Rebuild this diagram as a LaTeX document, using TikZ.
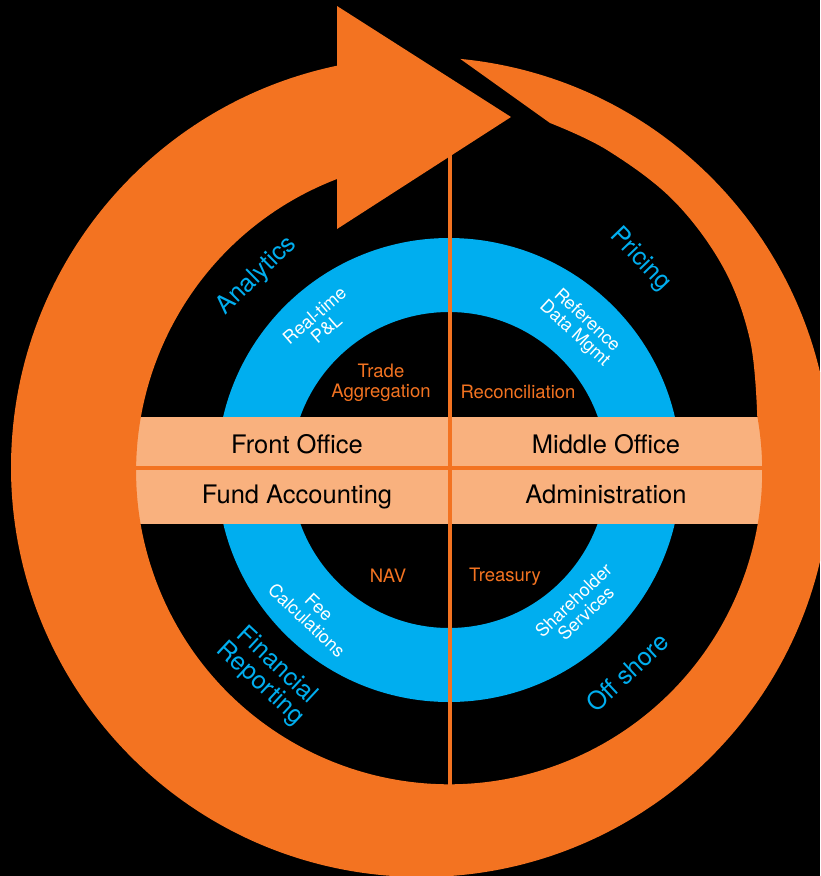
\documentclass[tikz,border=0pt]{standalone}
\usepackage{fontspec}
\setmainfont{TeX Gyre Heros}
\usetikzlibrary{calc}
\definecolor{orng}{HTML}{F37321}
\definecolor{beige}{HTML}{F9B17E}
\definecolor{cyanb}{HTML}{00AEEF}
\begin{document}
\begin{tikzpicture}[x=1pt,y=-1pt,
  bandtxt/.style={font=\fontsize{25.5}{28}\selectfont, text=black, anchor=base, inner sep=0pt},
  innertxt/.style={font=\fontsize{18.5}{20.5}\selectfont, text=orng, align=center, inner sep=0pt},
  ringtxt/.style={font=\fontsize{18}{18}\selectfont, text=white, align=center, inner sep=0pt},
  outertxt/.style={font=\fontsize{25}{24.5}\selectfont, text=cyanb, align=center, inner sep=0pt},
  divider/.style={orng, line width=3.3pt}]
\fill[black] (0,0) rectangle (820,876);
\useasboundingbox (0,0) rectangle (820,876);
\clip (0,0) rectangle (820,876);
\coordinate (C) at (449,470);
% blue ring
\fill[cyanb, even odd rule] (C) circle[radius=232] (C) circle[radius=158];
% band
\fill[beige] (100,417) rectangle (800,524);
% dividers
\coordinate (hl) at (100,468);
\coordinate (hr) at (800,468);
\coordinate (vt) at (450,150);
\coordinate (vb) at (450,790);
\draw[divider] (hl) -- (hr);
\draw[divider, line width=3.2pt] (vt) -- (vb);
% orange circular arrow
\coordinate (tip) at (460.3,58.9);
\fill[orng] (tip) arc[start angle=275.5, end angle=618.18, radius=410]
  -- (337,6) -- (511,117) -- (337,229) -- (337,179)
  arc[start angle=249, end angle=-10, radius=313]
  -- plot[smooth, tension=0.6] coordinates {(757.2,415.6) (750,340) (723,267) (673,200) (607,150) (550,123)}
  -- cycle;
% band labels
\node[bandtxt] (fo) at (297,453) {Front Office};
\node[bandtxt] (mo) at (606,453) {Middle Office};
\node[bandtxt] (fa) at (297,503) {Fund Accounting};
\node[bandtxt] (ad) at (606,503) {Administration};
% inner labels
\node[innertxt] (ta) at (381,383) {Trade\\Aggregation};
\node[innertxt, anchor=base] (rc) at (518,398) {Reconciliation};
\node[innertxt, anchor=base] (nav) at (388,582) {NAV};
\node[innertxt, anchor=base] (tr) at (505,581) {Treasury};
% ring labels
\node[ringtxt, rotate=41] (rt) at ($(C)+(229:196)$) {Real-time\\P\&L};
\node[ringtxt, rotate=-42.7] (rd) at ($(C)+(312.7:194)$) {Reference\\Data Mgmt};
\node[ringtxt, rotate=-43.4] (fc) at ($(C)+(133.4:198)$) {Fee\\Calculations};
\node[ringtxt, rotate=43.7] (ss) at ($(C)+(46.3:189)$) {Shareholder\\Services};
% outer labels
\node[outertxt, rotate=44.7] (an) at ($(C)+(225.3:273)$) {Analytics};
\node[outertxt, rotate=-46] (pr) at ($(C)+(312.3:284)$) {Pricing};
\node[outertxt, rotate=-43] (fr) at ($(C)+(131.4:273)$) {Financial\\Reporting};
\node[outertxt, rotate=43] (os) at ($(C)+(48.6:270)$) {Off shore};
\end{tikzpicture}
\end{document}
